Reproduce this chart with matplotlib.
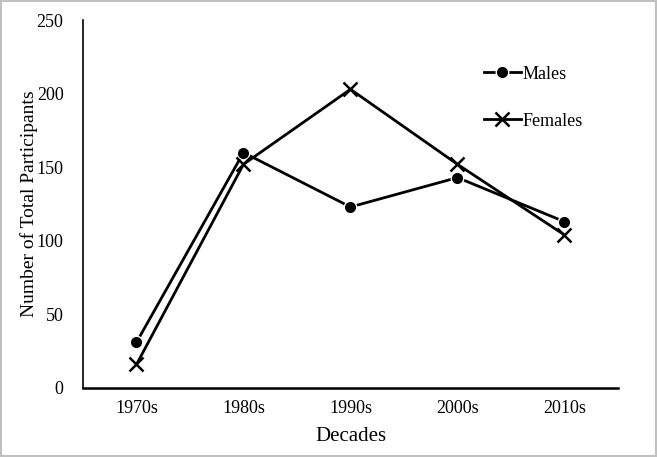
import matplotlib
matplotlib.use("Agg")
import matplotlib.pyplot as plt
from matplotlib.patches import Rectangle

# Data
decades = ["1970s", "1980s", "1990s", "2000s", "2010s"]
males = [31, 160, 123, 143, 113]
females = [16, 152, 203, 152, 104]

plt.rcParams['font.family'] = ['Liberation Serif', 'DejaVu Serif']

fig = plt.figure(figsize=(6.57, 4.57), dpi=100)
ax = fig.add_axes([0.1263, 0.151, 0.8143, 0.805])

x = range(len(decades))
ax.plot(x, males, color='black', lw=2.0, marker='o', ms=9,
        mec='white', mew=1.0, label='Males')
ax.plot(x, females, color='black', lw=2.0, marker='x', ms=10,
        mew=1.8, label='Females')

ax.set_xlim(-0.5, 4.5)
ax.set_ylim(0, 250)
ax.set_yticks(range(0, 251, 50))
ax.set_xticks(list(x))
ax.set_xticklabels(decades)

for s in ['top', 'right']:
    ax.spines[s].set_visible(False)
ax.spines['left'].set_linewidth(1.2)
ax.spines['bottom'].set_linewidth(1.8)
ax.tick_params(axis='both', length=0, labelsize=13, pad=9)
ax.tick_params(axis='y', pad=14)

ax.set_xlabel("Decades", fontsize=15, labelpad=7)
ax.set_ylabel("Number of Total Participants", fontsize=14, labelpad=-1)

ax.legend(loc='upper left', bbox_to_anchor=(0.72, 0.92), frameon=False,
          fontsize=13, labelspacing=1.65, handlelength=2.0, handletextpad=0.1)

# light grey frame round the figure
fig.patches.append(Rectangle((0.002, 0.002), 0.996, 0.996, transform=fig.transFigure,
                             fill=False, edgecolor='#c0c0c0', lw=1.5))

fig.savefig("out.png", dpi=100)
